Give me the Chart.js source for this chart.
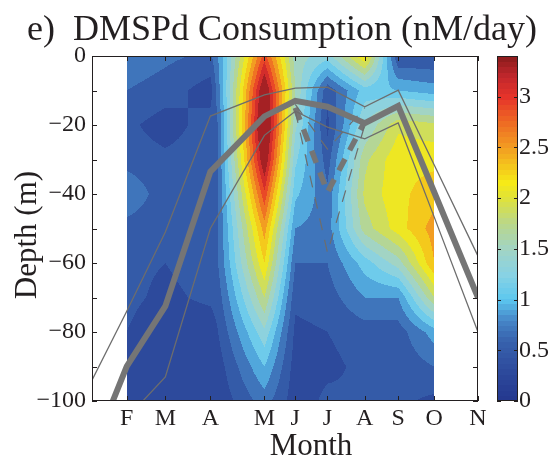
<!DOCTYPE html>
<html>
<head>
<meta charset="utf-8">
<script src="https://cdn.jsdelivr.net/npm/chart.js@4.4.1/dist/chart.umd.min.js"></script>
<style>
  html, body { margin: 0; padding: 0; background: #fff; }
  #wrap { width: 550px; height: 461px; }
</style>
</head>
<body>
<div id="wrap"><canvas id="dmspChart" width="550" height="461"></canvas></div>
<script>
// month ticks (day of year of each cruise)
var monthDays = [47, 77, 112, 154, 178, 203, 232, 258, 286, 320];
var monthLabels = ['F', 'M', 'A', 'M', 'J', 'J', 'A', 'S', 'O', 'N'];

// contour grid: one profile per column day, depths in m
var profileDays = [47, 77, 112, 118, 154, 178, 203, 232, 258, 286];
var profileDepths = [0, -10, -20, -30, -40, -50, -60, -70, -80, -90, -100];
var profFeb = [0.75, 0.6, 0.45, 0.5, 0.8, 0.5, 0.45, 0.45, 0.4, 0.4, 0.35];
var profMar = [0.65, 0.5, 0.3, 0.45, 0.45, 0.45, 0.4, 0.35, 0.25, 0.25, 0.25];
var profApr = [0.55, 0.3, 0.5, 0.5, 0.5, 0.5, 0.5, 0.45, 0.25, 0.25, 0.25];
var profLateApr = [0.8, 0.7, 0.6, 0.6, 0.6, 0.6, 0.6, 0.5, 0.4, 0.3, 0.25];
var profMay = [2.9, 3.5, 3.7, 3.45, 2.95, 2.5, 2.2, 1.8, 1.35, 1.0, 0.7];
var profJun = [1.5, 1.6, 1.45, 1.25, 1.05, 0.8, 0.6, 0.45, 0.35, 0.3, 0.28];
var profJul = [1.3, 0.45, 0.35, 0.5, 0.65, 0.7, 0.6, 0.5, 0.4, 0.35, 0.45];
var profAug = [2.2, 1.1, 1.4, 1.75, 1.85, 1.7, 1.1, 0.8, 0.5, 0.45, 0.4];
var profSep = [0.4, 1.0, 1.95, 2.15, 2.15, 2.1, 1.5, 0.8, 0.5, 0.45, 0.45];
var profOct = [0.4, 0.9, 1.85, 2.15, 2.3, 2.5, 2.4, 1.8, 0.9, 0.6, 0.35];
var consumption = [profFeb, profMar, profApr, profLateApr, profMay, profJun, profJul, profAug, profSep, profOct];

// mixed layer depth lines
var mldDays = [20, 47, 77, 112, 154, 178, 203, 232, 258, 286, 320];
var mldMean = [-115, -90, -72.5, -33.5, -17.5, -13, -14.7, -19.5, -14.5, -39.5, -70];
var mldUpper = [-94, -74, -51, -17.4, -11.3, -9.3, -9, -14.7, -9.9, -31.6, -58];
var mldLower = [-130, -105, -93, -50, -23, -16, -20.6, -24, -19.4, -46.7, -80];
var dashDays = [178, 203, 232];
var dashMean = [-15, -39.5, -19];
var dashUpper = [-14, -27, -15];
var dashLower = [-16, -57, -20];

// colour bar
var cbMax = 3.4;
var levelStep = 0.2;
var cmapStops = [
    [0.0, '#24378e'], [0.3, '#2d4a9c'], [0.6, '#3863ae'], [0.8, '#4686c8'],
    [1.0, '#5cc7ef'], [1.25, '#88d2e4'], [1.5, '#a2d4c4'], [1.75, '#b9d78a'],
    [2.0, '#dfe23a'], [2.15, '#f6ea17'], [2.5, '#f29d22'], [2.75, '#ee6a23'],
    [3.0, '#e5332a'], [3.2, '#c1272c'], [3.4, '#8a1c1c']
];

var serif = '"Liberation Serif", "Times New Roman", serif';
var ink = '#231f20';

function hexRgb(h) {
    return [parseInt(h.substr(1, 2), 16), parseInt(h.substr(3, 2), 16), parseInt(h.substr(5, 2), 16)];
}

function cmap(v) {
    if (v <= cmapStops[0][0]) return hexRgb(cmapStops[0][1]);
    for (var k = 0; k < cmapStops.length - 1; k++) {
        var a = cmapStops[k], b = cmapStops[k + 1];
        if (v <= b[0]) {
            var t = (v - a[0]) / (b[0] - a[0]);
            var ca = hexRgb(a[1]), cb = hexRgb(b[1]);
            return [0, 1, 2].map(function (c) { return Math.round(ca[c] + (cb[c] - ca[c]) * t); });
        }
    }
    return hexRgb(cmapStops[cmapStops.length - 1][1]);
}

function sampleGrid(day, depth) {
    var n = profileDays.length, m = profileDepths.length;
    var i = 0;
    while (i < n - 2 && day > profileDays[i + 1]) i++;
    var r = 0;
    while (r < m - 2 && depth < profileDepths[r + 1]) r++;
    var tx = (day - profileDays[i]) / (profileDays[i + 1] - profileDays[i]);
    var ty = (depth - profileDepths[r]) / (profileDepths[r + 1] - profileDepths[r]);
    tx = Math.max(0, Math.min(1, tx));
    ty = Math.max(0, Math.min(1, ty));
    var a = consumption[i][r], b = consumption[i + 1][r];
    var c = consumption[i][r + 1], d = consumption[i + 1][r + 1];
    return (a * (1 - tx) + b * tx) * (1 - ty) + (c * (1 - tx) + d * tx) * ty;
}

function toPoints(days, depths) {
    return days.map(function (d, i) { return { x: d, y: depths[i] }; });
}

var contourPlugin = {
    id: 'contour',
    beforeDatasetsDraw: function (chart) {
        var xs = chart.scales.x, ys = chart.scales.y;
        var ctx = chart.ctx, area = chart.chartArea;
        var x0 = Math.round(xs.getPixelForValue(profileDays[0]));
        var x1 = Math.round(xs.getPixelForValue(profileDays[profileDays.length - 1]));
        var y0 = Math.round(area.top), y1 = Math.round(area.bottom);
        var w = x1 - x0, h = y1 - y0;
        var off = document.createElement('canvas');
        off.width = w; off.height = h;
        var octx = off.getContext('2d');
        var img = octx.createImageData(w, h);
        var nLevels = Math.ceil(cbMax / levelStep);
        var levelColors = [];
        for (var l = 0; l < nLevels; l++) levelColors.push(cmap((l + 0.5) * levelStep));
        for (var j = 0; j < h; j++) {
            var depth = ys.getValueForPixel(y0 + j + 0.5);
            for (var i = 0; i < w; i++) {
                var day = xs.getValueForPixel(x0 + i + 0.5);
                var v = sampleGrid(day, depth);
                var lvl = Math.max(0, Math.min(nLevels - 1, Math.floor(v / levelStep)));
                var col = levelColors[lvl];
                var p = (j * w + i) * 4;
                img.data[p] = col[0]; img.data[p + 1] = col[1]; img.data[p + 2] = col[2]; img.data[p + 3] = 255;
            }
        }
        octx.putImageData(img, 0, 0);
        ctx.drawImage(off, x0, y0);
    },
    afterDraw: function (chart) {
        var ctx = chart.ctx, area = chart.chartArea;
        var xs = chart.scales.x, ys = chart.scales.y, cb = chart.scales.cb;
        ctx.save();
        ctx.strokeStyle = ink;
        ctx.lineWidth = 1;
        // plot box and inward ticks
        ctx.strokeRect(Math.round(area.left) + 0.5, Math.round(area.top) + 0.5,
            Math.round(area.right - area.left) - 1, Math.round(area.bottom - area.top) - 1);
        ctx.beginPath();
        ys.ticks.forEach(function (t) {
            var y = Math.round(ys.getPixelForValue(t.value)) + 0.5;
            ctx.moveTo(area.left, y); ctx.lineTo(area.left + 5, y);
            ctx.moveTo(area.right, y); ctx.lineTo(area.right - 5, y);
        });
        xs.ticks.forEach(function (t) {
            var x = Math.round(xs.getPixelForValue(t.value)) + 0.5;
            ctx.moveTo(x, area.bottom); ctx.lineTo(x, area.bottom - 5);
            ctx.moveTo(x, area.top); ctx.lineTo(x, area.top + 5);
        });
        ctx.stroke();

        // colour bar
        var bx = 497, bw = 21;
        var nSteps = 64;
        for (var k = 0; k < nSteps; k++) {
            var v0 = k * cbMax / nSteps, v1 = (k + 1) * cbMax / nSteps;
            var c = cmap((k + 0.5) * cbMax / nSteps);
            ctx.fillStyle = 'rgb(' + c.join(',') + ')';
            var yt = cb.getPixelForValue(v1), yb = cb.getPixelForValue(v0);
            ctx.fillRect(bx, Math.floor(yt), bw, Math.ceil(yb) - Math.floor(yt));
        }
        ctx.strokeRect(bx + 0.5, Math.round(cb.top) + 0.5, bw - 1, Math.round(cb.bottom - cb.top) - 1);
        ctx.beginPath();
        cb.ticks.forEach(function (t) {
            var y = Math.round(cb.getPixelForValue(t.value)) + 0.5;
            ctx.moveTo(bx, y); ctx.lineTo(bx + 4, y);
            ctx.moveTo(bx + bw, y); ctx.lineTo(bx + bw - 4, y);
        });
        ctx.stroke();

        // titles
        ctx.fillStyle = ink;
        ctx.textBaseline = 'alphabetic';
        ctx.textAlign = 'center';
        ctx.font = '36px ' + serif;
        ctx.fillText('e)  DMSPd Consumption (nM/day)', 282, 40);
        ctx.font = '31px ' + serif;
        ctx.fillText('Month', 311, 455);
        ctx.save();
        ctx.translate(36, 235);
        ctx.rotate(-Math.PI / 2);
        ctx.fillText('Depth (m)', 0, 0);
        ctx.restore();
        ctx.restore();
    }
};

var tickFont = { family: serif, size: 24 };

var mainChart = new Chart(document.getElementById('dmspChart'), {
    type: 'line',
    data: {
        datasets: [
            { data: toPoints(mldDays, mldUpper), borderColor: '#6d6d6d', borderWidth: 1.3 },
            { data: toPoints(mldDays, mldLower), borderColor: '#6d6d6d', borderWidth: 1.3 },
            { data: toPoints(mldDays, mldMean), borderColor: '#757575', borderWidth: 6 },
            { data: toPoints(dashDays, dashUpper), borderColor: '#6d6d6d', borderWidth: 1.2, borderDash: [12, 10] },
            { data: toPoints(dashDays, dashLower), borderColor: '#6d6d6d', borderWidth: 1.2, borderDash: [12, 10] },
            { data: toPoints(dashDays, dashMean), borderColor: '#757575', borderWidth: 5.5, borderDash: [13, 10] }
        ]
    },
    options: {
        responsive: false,
        animation: false,
        devicePixelRatio: 1,
        parsing: false,
        elements: { point: { radius: 0 }, line: { tension: 0, fill: false } },
        layout: { padding: { top: 56, left: 0, right: 0, bottom: 0 } },
        plugins: {
            legend: { display: false },
            tooltip: { enabled: false },
            title: { display: false }
        },
        scales: {
            x: {
                type: 'linear',
                min: 20,
                max: 320,
                afterBuildTicks: function (scale) {
                    scale.ticks = monthDays.map(function (d) { return { value: d }; });
                },
                afterFit: function (scale) { scale.height = 60; },
                ticks: {
                    autoSkip: false,
                    maxRotation: 0,
                    padding: 3,
                    color: ink,
                    font: tickFont,
                    callback: function (v) { return monthLabels[monthDays.indexOf(v)]; }
                },
                grid: { display: false, drawTicks: false },
                border: { display: false }
            },
            y: {
                type: 'linear',
                min: -100,
                max: 0,
                afterFit: function (scale) { scale.width = 92; },
                ticks: {
                    stepSize: 10,
                    padding: 6,
                    color: ink,
                    font: tickFont,
                    callback: function (v) {
                        if (v % 20 !== 0) return '';
                        return v === 0 ? '0' : '\u2212' + Math.abs(v);
                    }
                },
                grid: { display: false, drawTicks: false },
                border: { display: false }
            },
            cb: {
                axis: 'y',
                type: 'linear',
                position: 'right',
                min: 0,
                max: cbMax,
                afterFit: function (scale) { scale.width = 72; },
                ticks: {
                    stepSize: 0.5,
                    includeBounds: false,
                    padding: 41,
                    color: ink,
                    font: tickFont,
                    callback: function (v) { return String(v); }
                },
                grid: { display: false, drawTicks: false },
                border: { display: false }
            }
        }
    },
    plugins: [contourPlugin]
});
</script>
</body>
</html>
